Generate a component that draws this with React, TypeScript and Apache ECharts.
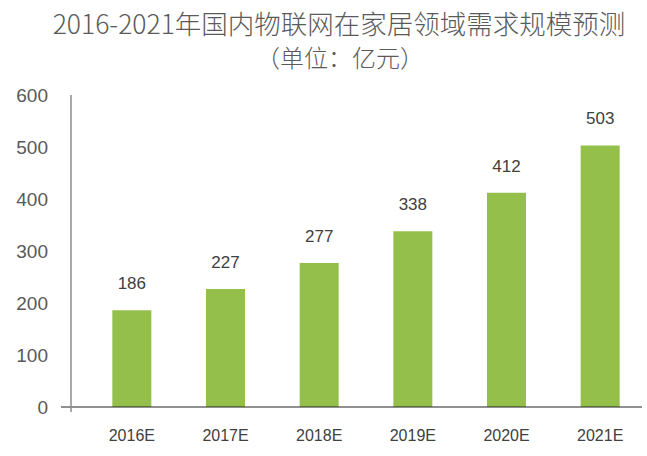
import React, { useEffect, useRef } from "react";
import * as echarts from "echarts";

const categories = ["2016E", "2017E", "2018E", "2019E", "2020E", "2021E"];
const values = [186, 227, 277, 338, 412, 503];
const titleLine1 = "2016-2021年国内物联网在家居领域需求规模预测";
const titleLine2 = "（单位：亿元）";

export default function App() {
  const ref = useRef<HTMLDivElement>(null);
  useEffect(() => {
    document.body.style.margin = "0";
    const chart = echarts.init(ref.current!, null, { renderer: "svg" });
    const font = "'Liberation Sans', Arial, sans-serif";
    chart.setOption({
      animation: false,
      backgroundColor: "#ffffff",
      graphic: [
        {
          type: "text",
          x: 339,
          y: 22,
          style: {
            text: titleLine1,
            fill: "#5a5a5a",
            font: "300 26.5px 'Noto Sans CJK SC', sans-serif",
            textAlign: "center",
            textVerticalAlign: "middle",
          },
        },
        {
          type: "text",
          x: 340,
          y: 56,
          style: {
            text: titleLine2,
            fill: "#5a5a5a",
            font: "300 24px 'Noto Sans CJK SC', sans-serif",
            textAlign: "center",
            textVerticalAlign: "middle",
          },
        },
        {
          type: "line",
          shape: { x1: 61, y1: 407, x2: 642, y2: 407 },
          style: { stroke: "#222222", lineWidth: 1 },
          z: 10,
        },
        {
          type: "line",
          shape: { x1: 71, y1: 95, x2: 71, y2: 412 },
          style: { stroke: "#8c8c8c", lineWidth: 1.5 },
          z: 10,
        },
      ],
      grid: { left: 85, top: 95, width: 564, height: 312 },
      xAxis: {
        type: "category",
        data: categories,
        axisLine: { show: false },
        axisTick: { show: false },
        axisLabel: {
          color: "#404040",
          fontSize: 16,
          fontFamily: font,
          margin: 20,
        },
      },
      yAxis: {
        type: "value",
        min: 0,
        max: 600,
        interval: 100,
        offset: 14,
        axisLine: { show: false },
        axisTick: { show: false },
        splitLine: { show: false },
        axisLabel: {
          color: "#595959",
          fontSize: 19,
          fontFamily: font,
          margin: 23,
        },
      },
      series: [
        {
          type: "bar",
          data: values,
          barWidth: 39,
          itemStyle: { color: "#94BF4B" },
          label: {
            show: true,
            position: "top",
            distance: 18,
            color: "#404040",
            fontSize: 17,
            fontFamily: font,
          },
        },
      ],
    });
    return () => chart.dispose();
  }, []);
  return (
    <div
      ref={ref}
      style={{ position: "fixed", left: 0, top: 0, width: 647, height: 456 }}
    />
  );
}
